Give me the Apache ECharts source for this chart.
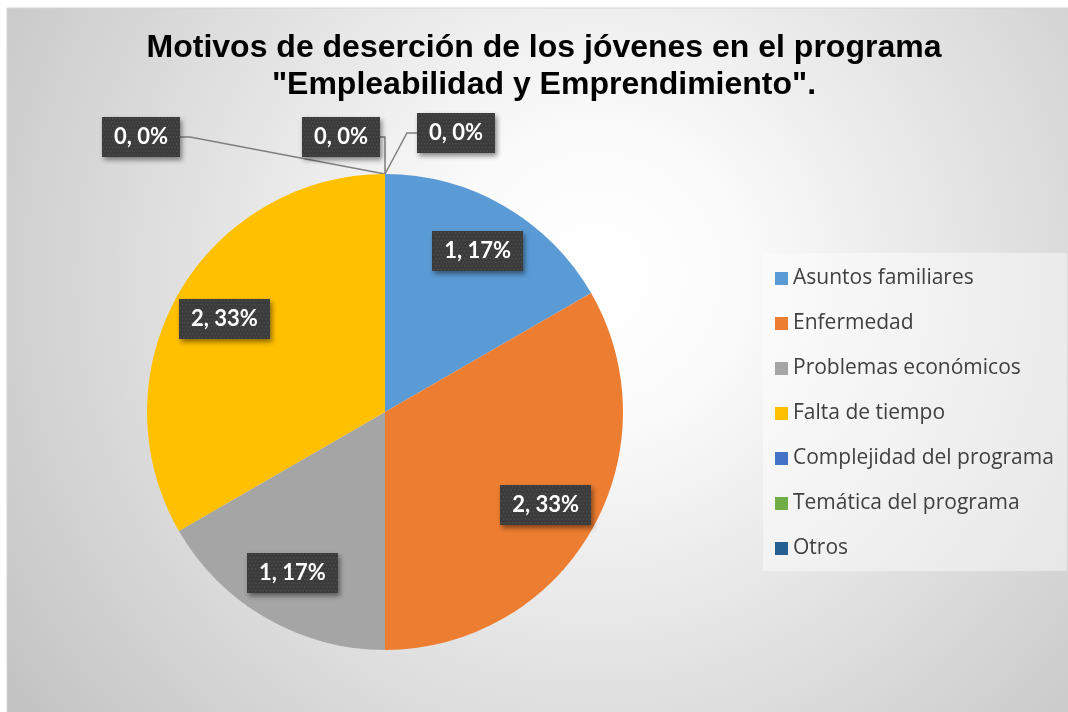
<!DOCTYPE html>
<html>
<head>
<meta charset="utf-8">
<script src="https://cdn.jsdelivr.net/npm/echarts@6/dist/echarts.min.js"></script>
<style>
  html, body { margin: 0; padding: 0; background: #fff; }
  #main { width: 1068px; height: 712px; }
</style>
</head>
<body>
<div id="main"></div>
<script>
// datos del grafico
var categorias = ['Asuntos familiares', 'Enfermedad', 'Problemas económicos', 'Falta de tiempo',
  'Complejidad del programa', 'Temática del programa', 'Otros'];
var valores = [1, 2, 1, 2, 0, 0, 0];
var colores = ['#5B9BD5', '#ED7D31', '#A5A5A5', '#FFC000', '#4472C4', '#70AD47', '#255E91'];
var tituloLineas = ['Motivos de deserción de los jóvenes en el programa',
  '"Empleabilidad y Emprendimiento".'];

// desplazamiento de las etiquetas de valor cero respecto al punto superior del pastel
var offsetCeros = {
  4: { lx: -205, ly: -37, align: 'right', bend: -195 },
  5: { lx: -44, ly: -37, align: 'center', bend: null },
  6: { lx: 71, ly: -41, align: 'center', bend: 23 }
};

var pieCenter = [385, 412], pieRadius = 238;

// fondo punteado de las etiquetas
var trama = document.createElement('canvas');
trama.width = 100; trama.height = 44;
(function () {
  var c = trama.getContext('2d');
  c.fillStyle = '#3b3b3b';
  c.fillRect(0, 0, 100, 44);
  c.fillStyle = '#535353';
  for (var yy = 1; yy < 44; yy += 4) {
    for (var xx = ((yy - 1) / 4 % 2) * 2 + 1; xx < 100; xx += 4) {
      c.fillRect(xx, yy, 1.5, 1.5);
    }
  }
})();

var chart = echarts.init(document.getElementById('main'));

var data = [];
for (var i = 0; i < categorias.length; i++) {
  data.push({ name: categorias[i], value: valores[i], itemStyle: { color: colores[i] } });
}

var estiloTitulo = {
  fontFamily: 'Liberation Sans, Arial, sans-serif',
  fontWeight: 'bold',
  fontSize: 32,
  color: '#000'
};

chart.setOption({
  animation: false,
  graphic: [{
    type: 'rect',
    z: -10,
    shape: { x: 7, y: 8, width: 1070, height: 710 },
    style: {
      fill: new echarts.graphic.RadialGradient(0.55, 0.38, 1.0, [
        { offset: 0, color: '#ffffff' },
        { offset: 0.2, color: '#fbfbfb' },
        { offset: 1, color: '#c4c4c4' }
      ]),
      stroke: '#d4d4d4',
      lineWidth: 1
    }
  }],
  title: [
    { text: tituloLineas[0], left: 544, textAlign: 'center', top: 32, padding: 0, textStyle: estiloTitulo },
    { text: tituloLineas[1], left: 544, textAlign: 'center', top: 69, padding: 0, textStyle: estiloTitulo }
  ],
  legend: {
    orient: 'vertical',
    left: 763,
    top: 253,
    padding: [15, 13, 12, 12],
    backgroundColor: 'rgba(255,255,255,0.45)',
    itemWidth: 13,
    itemHeight: 13,
    itemGap: 24,
    icon: 'rect',
    textStyle: {
      fontFamily: 'Open Sans, sans-serif',
      fontSize: 21,
      lineHeight: 20,
      color: '#404040'
    },
    data: categorias
  },
  series: [{
    type: 'pie',
    center: pieCenter,
    radius: pieRadius,
    startAngle: 90,
    clockwise: true,
    avoidLabelOverlap: false,
    percentPrecision: 0,
    itemStyle: { borderWidth: 0 },
    emphasis: { disabled: true },
    label: {
      show: true,
      position: 'inside',
      formatter: '{c}, {d}%',
      fontFamily: 'Lato, sans-serif',
      fontWeight: 'bold',
      fontSize: 22,
      color: '#fff',
      backgroundColor: { image: trama },
      padding: [9, 12, 9, 12],
      shadowColor: 'rgba(0,0,0,0.45)',
      shadowBlur: 5,
      shadowOffsetX: 2,
      shadowOffsetY: 3
    },
    labelLine: { show: true, lineStyle: { color: '#7f7f7f', width: 1.5 }, length: 10, length2: 10 },
    labelLayout: function (p) {
      var top = [pieCenter[0], pieCenter[1] - pieRadius];
      var o = offsetCeros[p.dataIndex];
      if (o) {
        var r = p.labelRect;
        var x, y = top[1] + o.ly;
        var pts;
        if (o.align === 'right') {
          x = top[0] + o.lx;
          pts = [top, [top[0] + o.bend, y - 2], [x, y - 2]];
          return { x: x - r.width / 2, y: y, align: 'center', verticalAlign: 'middle', labelLinePoints: pts };
        }
        x = top[0] + o.lx;
        if (o.bend === null) {
          pts = [top, [top[0], y + r.height / 2], [top[0], y + r.height / 2]];
        } else {
          pts = [top, [top[0] + o.bend, y - 5], [x - r.width / 2, y - 5]];
        }
        return { x: x, y: y, align: 'center', verticalAlign: 'middle', labelLinePoints: pts };
      }
      // etiquetas interiores a ~0.76 del radio
      var cx = p.labelRect.x + p.labelRect.width / 2;
      var cy = p.labelRect.y + p.labelRect.height / 2;
      var k = 1.52;
      return {
        x: pieCenter[0] + (cx - pieCenter[0]) * k,
        y: pieCenter[1] + (cy - pieCenter[1]) * k,
        align: 'center',
        verticalAlign: 'middle'
      };
    },
    data: data
  }]
});
</script>
</body>
</html>
